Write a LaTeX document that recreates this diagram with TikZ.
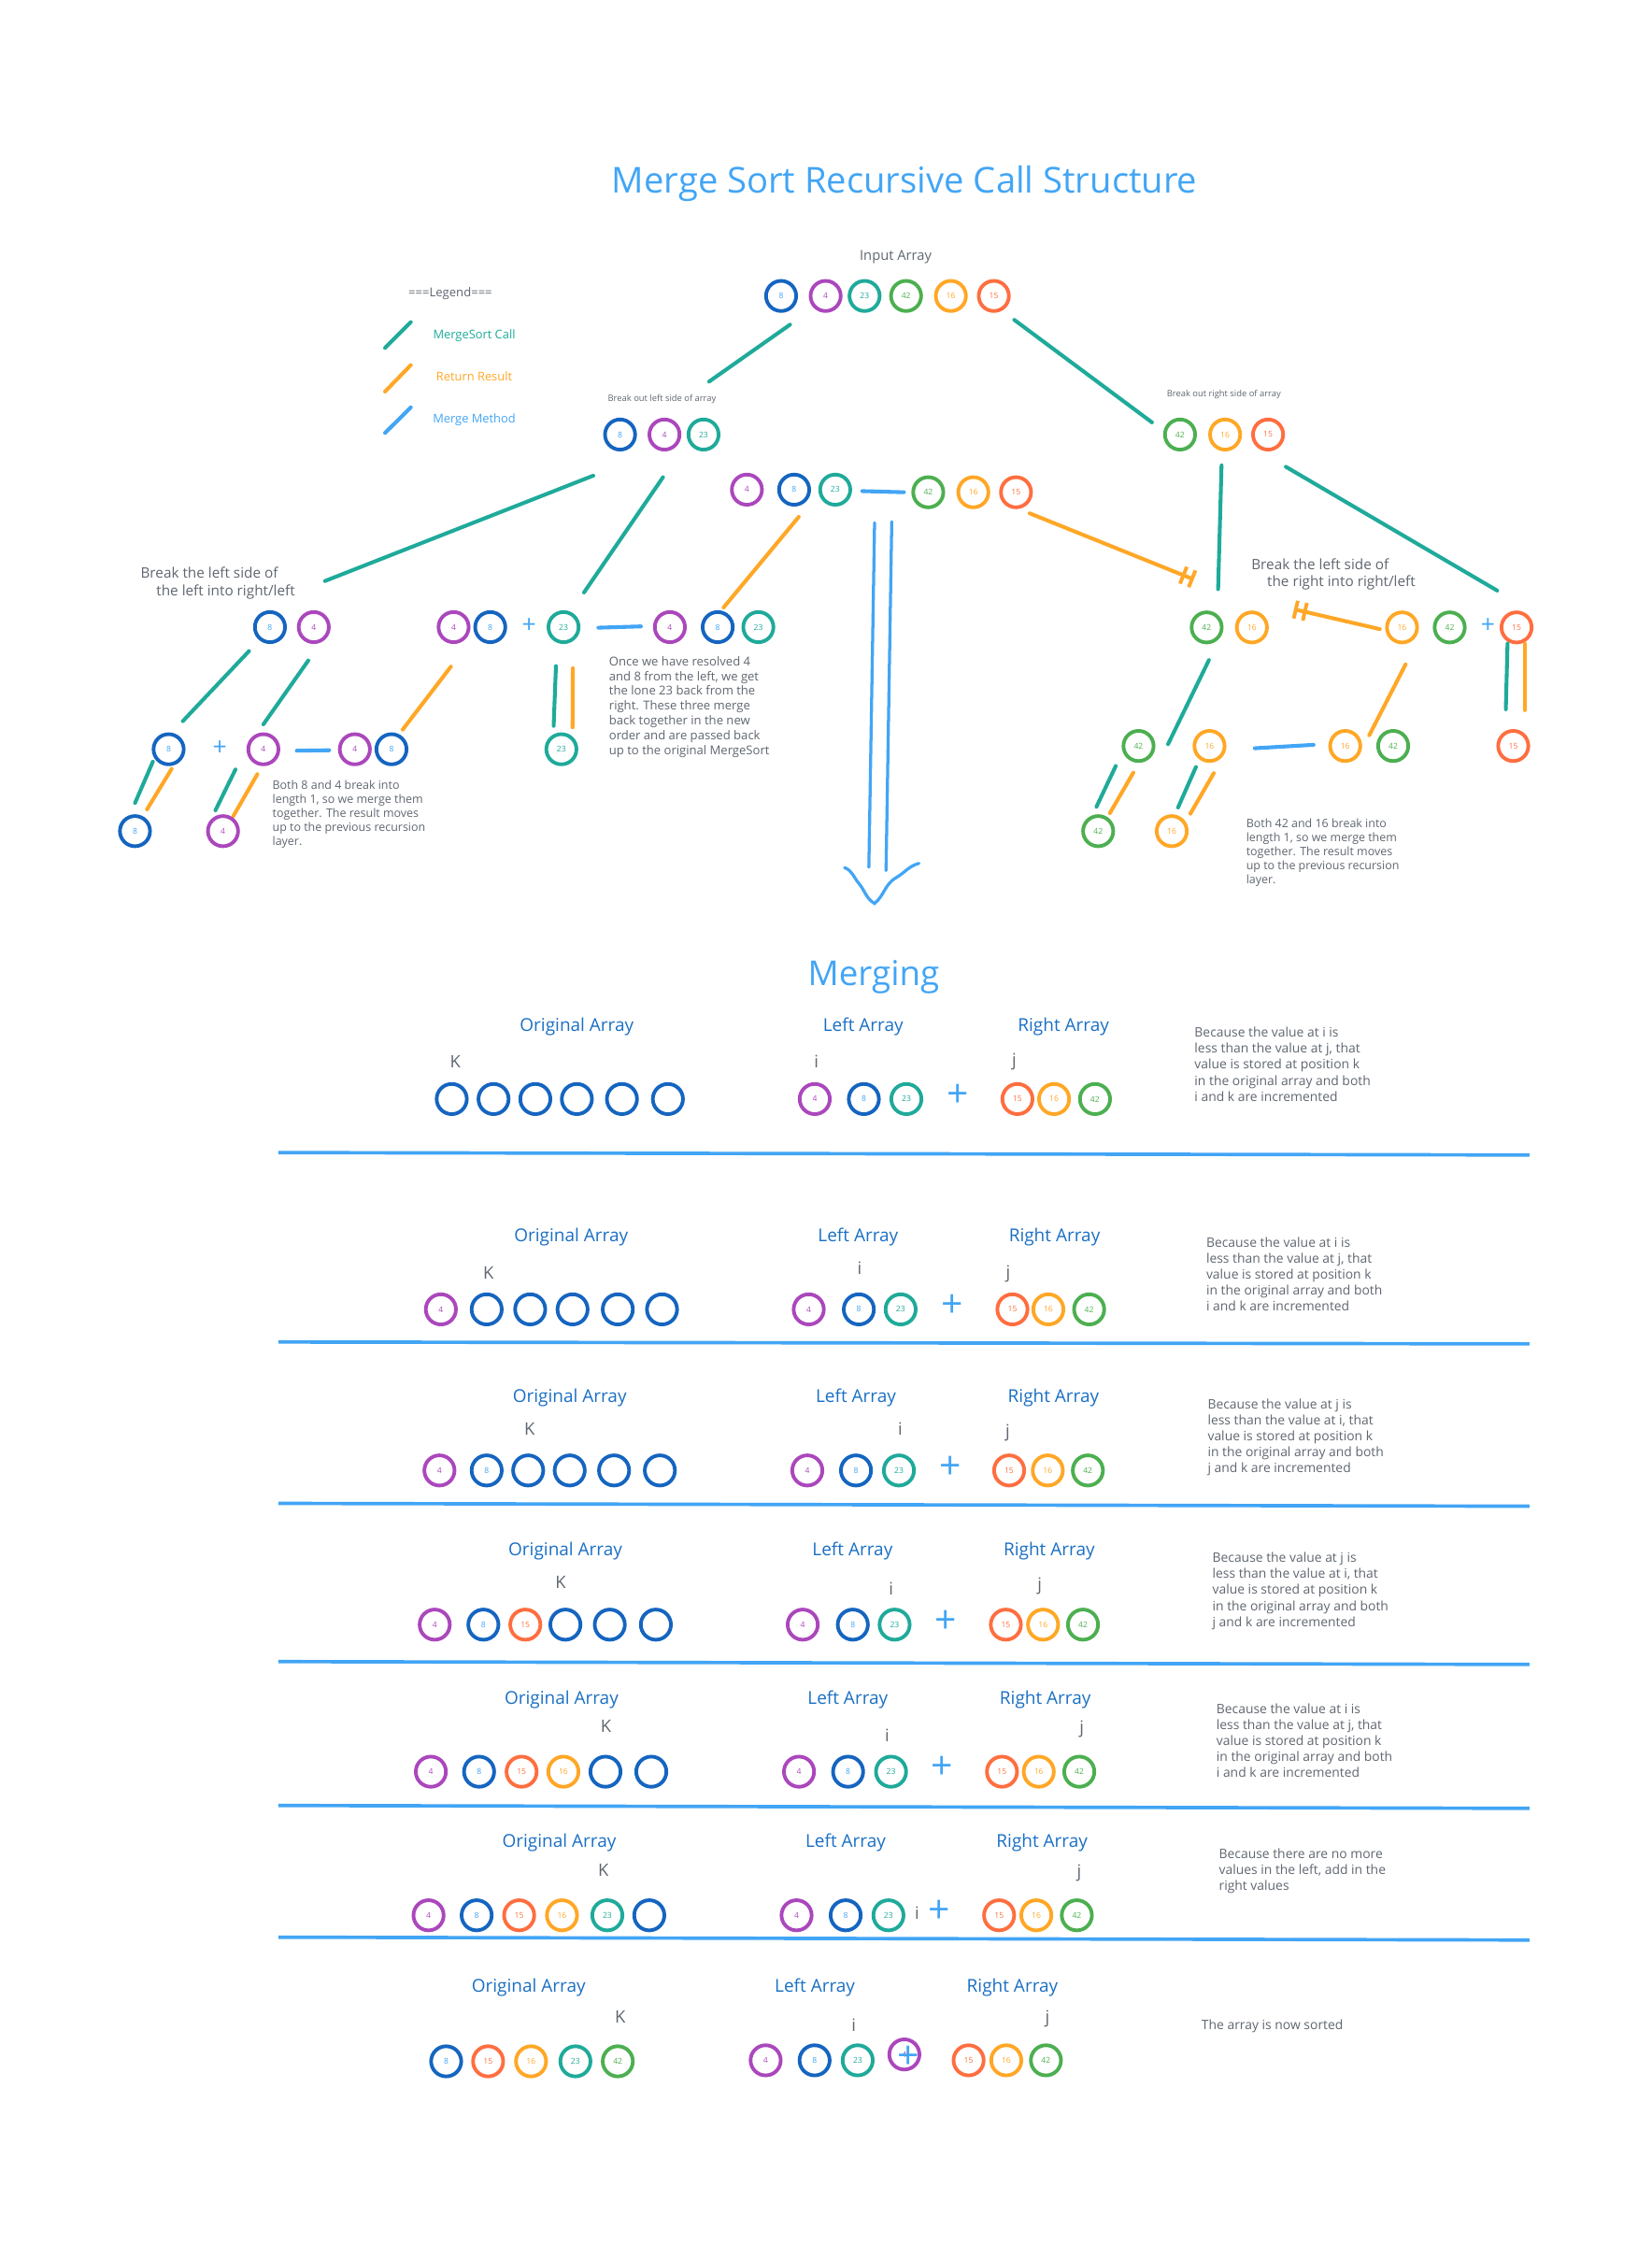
\documentclass[tikz,border=0pt]{standalone}
\usepackage{fontspec}
\setmainfont{Open Sans}
\usetikzlibrary{arrows.meta}
\definecolor{cblue}{HTML}{1565C0}
\definecolor{cpurple}{HTML}{AB47BC}
\definecolor{cteal}{HTML}{1FAA9A}
\definecolor{cgreen}{HTML}{4CAF50}
\definecolor{corange}{HTML}{FFA726}
\definecolor{cred}{HTML}{FF6E40}
\definecolor{cltblue}{HTML}{42A5F5}
\definecolor{hdrblue}{HTML}{1A6FC4}
\definecolor{txtgray}{HTML}{5F6670}
\newcommand{\myfs}[2]{\fontsize{#1}{#2}\selectfont}
\newcommand{\conn}[4]{\coordinate (#2-s) at (#3); \coordinate (#2-e) at (#4); \draw[#1] (#2-s) -- (#2-e);}
\begin{document}
\begin{tikzpicture}[x=0.75pt,y=-0.75pt,
  ring/.style={circle,draw,line width=1.9pt,minimum size=15.8pt,inner sep=0pt,font=\myfs{4.2}{5}},
  cB/.style={ring,draw=cblue,text=cltblue},
  cP/.style={ring,draw=cpurple,text=cpurple},
  cT/.style={ring,draw=cteal,text=cteal},
  cG/.style={ring,draw=cgreen,text=cgreen},
  cO/.style={ring,draw=corange,text=corange},
  cR/.style={ring,draw=cred,text=cred},
  cE/.style={ring,draw=cblue},
  ms/.style={draw=cteal,line width=2pt,line cap=round},
  rr/.style={draw=corange,line width=2pt,line cap=round},
  mm/.style={draw=cltblue,line width=2pt,line cap=round},
  bigline/.style={draw=cltblue,line width=1.6pt,line cap=round},
  sepline/.style={draw=cltblue,line width=1.8pt},
  teeend/.style={-{Bar[width=9.5pt,line width=1.9pt,sep=3pt]Bar[width=9.5pt,line width=1.9pt]}},
  lbl/.style={inner sep=0pt,text=txtgray,anchor=base},
  desc/.style={inner sep=0pt,text=txtgray,align=left,anchor=north west},
  hdr/.style={inner sep=0pt,text=hdrblue,anchor=base,font=\myfs{9.3}{11}},
  idx/.style={inner sep=0pt,text=txtgray,font=\myfs{9}{11}},
  plusS/.style={inner sep=0pt,text=cltblue,font=\myfs{13}{14}},
  plusL/.style={inner sep=0pt,text=cltblue,font=\myfs{20}{22}},
  mdesc/.style={desc,font=\myfs{6.8}{8.4}}
]
\useasboundingbox (0,0) rectangle (1154,1568);

% ---------- title & legend ----------
\node[lbl,text=cltblue,font=\myfs{18.7}{22}] (title) at (632,135.1) {Merge Sort Recursive Call Structure};
\node[lbl,font=\myfs{7.2}{9}] (inlabel) at (625.7,181.8) {Input Array};
\node[lbl,font=\myfs{6.4}{8}] (legend) at (314.6,207.5) {===Legend===};
\conn{ms}{lg1}{269,243}{287,225}
\conn{rr}{lg2}{269,273.5}{287,255}
\conn{mm}{lg3}{269,302.4}{287,284.5}
\node[lbl,text=cteal,font=\myfs{6.3}{8}] (lgt1) at (331.3,236.5) {MergeSort Call};
\node[lbl,text=corange,font=\myfs{6.3}{8}] (lgt2) at (331.3,266.3) {Return Result};
\node[lbl,text=cltblue,font=\myfs{6.3}{8}] (lgt3) at (331.3,295.2) {Merge Method};

% ---------- input array ----------
\node[cB] (t1) at (545.7,206.7) {8};
\node[cP] (t2) at (576.8,206.7) {4};
\node[cT] (t3) at (604,206.7) {23};
\node[cG] (t4) at (633,206.7) {42};
\node[cO] (t5) at (664.3,206.7) {16};
\node[cR] (t6) at (694.3,206.7) {15};

% ---------- split ----------
\conn{ms}{sp1}{552,226.7}{495.4,266.5}
\conn{ms}{sp2}{708.6,223.4}{804.8,295}
\node[lbl,font=\myfs{4.6}{6}] (bl) at (462.5,280.2) {Break out left side of array};
\node[lbl,font=\myfs{4.6}{6}] (br) at (855,277.2) {Break out right side of array};
\node[cB] (l1) at (433.2,303.5) {8};
\node[cP] (l2) at (464.2,303.5) {4};
\node[cT] (l3) at (491.5,303.5) {23};
\node[cG] (r1) at (824.4,303.5) {42};
\node[cO] (r2) at (855.9,303.5) {16};
\node[cR] (r3) at (885.9,303.5) {15};

% ---------- merged row ----------
\node[cP] (m1) at (521.8,342) {4};
\node[cB] (m2) at (554.8,342) {8};
\node[cT] (m3) at (583.5,342) {23};
\conn{mm}{mg1}{602.4,343}{631.5,343.8}
\node[cG] (m4) at (648.5,343.8) {42};
\node[cO] (m5) at (680,343.8) {16};
\node[cR] (m6) at (709.8,343.8) {15};

% ---------- left subtree ----------
\conn{ms}{ls1}{414.5,332.2}{227,405.8}
\conn{ms}{ls2}{463.2,333.3}{408,413.8}
\node[lbl,anchor=base west,font=\myfs{7.5}{9}] (ltA) at (98,403.6) {Break the left side of};
\node[lbl,anchor=base west,font=\myfs{7.5}{9}] (ltB) at (109,415.9) {the left into right/left};
\node[cB] (a1) at (188.6,438) {8};
\node[cP] (a2) at (219.2,438) {4};
\node[cP] (a3) at (316.9,438) {4};
\node[cB] (a4) at (342.5,438) {8};
\node[plusS] (p1) at (369.6,437) {+};
\node[cT] (a5) at (393.7,438) {23};
\conn{mm}{mg2}{418,438.4}{447.8,437.5}
\node[cP] (a6) at (468,438) {4};
\node[cB] (a7) at (501.4,438) {8};
\node[cT] (a8) at (529.8,438) {23};
\conn{rr}{rt1}{505.5,424.3}{558,361}
\conn{ms}{ls3}{174,454.7}{127.7,503.7}
\conn{ms}{ls4}{215.4,461.3}{184,505.9}
\conn{rr}{rt2}{281.3,509.6}{315,465.6}
\conn{ms}{ls5}{388.4,465.2}{386.8,507}
\conn{rr}{rt3}{400.2,466.7}{400,508}
\node[cB] (b1) at (117.8,523.3) {8};
\node[plusS] (p2) at (153.6,522.5) {+};
\node[cP] (b2) at (184,523.3) {4};
\conn{mm}{mg3}{207.3,524.3}{230,524}
\node[cP] (b3) at (247.9,523.3) {4};
\node[cB] (b4) at (273.5,523.3) {8};
\node[cT] (b5) at (392.2,523.3) {23};
\conn{ms}{ls6}{106.8,532}{94.3,560.9}
\conn{rr}{rt4}{119.9,537}{102.7,565.3}
\conn{ms}{ls7}{164.5,537.4}{150.5,566}
\conn{rr}{rt5}{179.8,540.7}{163,570}
\node[cB] (c1) at (94.3,580.5) {8};
\node[cP] (c2) at (155.8,580.5) {4};
\node[desc,font=\myfs{6.1}{7.35}] (dl) at (190.1,544.5) {Both 8 and 4 break into\\length 1, so we merge them\\together. The result moves\\up to the previous recursion\\layer.};
\node[desc,font=\myfs{6.4}{7.73}] (dm) at (425.3,458.3) {Once we have resolved 4\\and 8 from the left, we get\\the lone 23 back from the\\right. These three merge\\back together in the new\\order and are passed back\\up to the original MergeSort};

% ---------- right subtree ----------
\coordinate (te1-s) at (719.3,358.5); \coordinate (te1-e) at (834,404.7);
\draw[rr,teeend] (te1-s) -- (te1-e);
\conn{ms}{rs1}{853.4,325}{851,411.5}
\conn{ms}{rs2}{898.3,326}{1046,412.5}
\node[lbl,anchor=base west,font=\myfs{7.5}{9}] (rtA) at (874,397.6) {Break the left side of};
\node[lbl,anchor=base west,font=\myfs{7.5}{9}] (rtB) at (885,409.6) {the right into right/left};
\node[cG] (d1) at (843,438.2) {42};
\node[cO] (d2) at (874.6,438.2) {16};
\node[cO] (d3) at (979.5,438.2) {16};
\node[cG] (d4) at (1012.8,438.2) {42};
\node[plusS] (p3) at (1039.5,437) {+};
\node[cR] (d5) at (1059.5,438.2) {15};
\coordinate (te2-s) at (964,439.4); \coordinate (te2-e) at (904,425.5);
\draw[rr,teeend] (te2-s) -- (te2-e);
\conn{ms}{rs3}{1053.2,449.5}{1052,495.4}
\conn{rr}{rt6}{1065.3,449.5}{1065.3,496}
\conn{ms}{rs4}{844.6,461}{816,519.8}
\conn{rr}{rt7}{982,464}{956.6,513.5}
\node[cG] (e1) at (795.4,521) {42};
\node[cO] (e2) at (845,521) {16};
\conn{mm}{mg4}{876.6,522.6}{917.7,520.2}
\node[cO] (e3) at (939.8,521) {16};
\node[cG] (e4) at (973.3,521) {42};
\node[cR] (e5) at (1057.2,521) {15};
\conn{ms}{rs5}{779.5,535}{766,563.5}
\conn{rr}{rt8}{791.8,539.6}{775.4,567.9}
\conn{ms}{rs6}{835.5,535.7}{823,564}
\conn{rr}{rt9}{848,540}{831.6,568.3}
\node[cG] (f1) at (767.2,580.5) {42};
\node[cO] (f2) at (818.6,580.5) {16};
\node[desc,font=\myfs{6.1}{7.35}] (dr) at (870.4,571.3) {Both 42 and 16 break into\\length 1, so we merge them\\together. The result moves\\up to the previous recursion\\layer.};

% ---------- big arrow ----------
\conn{bigline}{ar1}{611,365}{607,605.7}
\conn{bigline}{ar2}{623,364.4}{619,608}
\coordinate (h1) at (590,606);
\coordinate (h2) at (600,617);
\coordinate (h3) at (611,631);
\coordinate (h4) at (626,613);
\coordinate (h5) at (642,603);
\draw[bigline] (h1) to[out=-20,in=130] (h2) to[out=-50,in=150] (h3) to[out=40,in=-150] (h4) to[out=30,in=-165] (h5);

% ---------- merging ----------
\node[lbl,text=cltblue,font=\myfs{18}{22}] (merging) at (610.3,688.6) {Merging};

% row 1
\node[hdr] (o1h) at (403,720.2) {Original Array};
\node[hdr] (l1h) at (603,720.2) {Left Array};
\node[hdr] (r1h) at (743,720.2) {Right Array};
\node[idx] (k1) at (318,741.5) {K};
\node[idx] (i1) at (570.3,741.5) {i};
\node[idx] (j1) at (708.5,741.5) {j};
\node[cE] (o11) at (315.6,767.6) {};
\node[cE] (o12) at (344.8,767.6) {};
\node[cE] (o13) at (374,767.6) {};
\node[cE] (o14) at (403,767.6) {};
\node[cE] (o15) at (434.5,767.6) {};
\node[cE] (o16) at (466.6,767.6) {};
\node[cP] (la11) at (569.2,767.6) {4};
\node[cB] (la12) at (603.5,767.6) {8};
\node[cT] (la13) at (633.2,767.6) {23};
\node[plusL] (pl1) at (669.4,765.4) {+};
\node[cR] (ra11) at (710.8,767.6) {15};
\node[cO] (ra12) at (736.4,767.6) {16};
\node[cG] (ra13) at (765,767.6) {42};
\node[mdesc] (ds1) at (834.3,717.2) {Because the value at i is\\less than the value at j, that\\value is stored at position k\\in the original array and both\\i and k are incremented};
\conn{sepline}{sp1l}{194.4,805}{1068.5,806.7}

% row 2
\node[hdr] (o2h) at (399,867.1) {Original Array};
\node[hdr] (l2h) at (599.5,867.1) {Left Array};
\node[hdr] (r2h) at (736.7,867.1) {Right Array};
\node[idx] (k2) at (341.3,888.8) {K};
\node[idx] (i2) at (600.6,885.5) {i};
\node[idx] (j2) at (704.3,889.7) {j};
\node[cP] (o21) at (308,914.5) {4};
\node[cE] (o22) at (340,914.5) {};
\node[cE] (o23) at (370.4,914.5) {};
\node[cE] (o24) at (400,914.5) {};
\node[cE] (o25) at (431.6,914.5) {};
\node[cE] (o26) at (462.5,914.5) {};
\node[cP] (la21) at (565,914.5) {4};
\node[cB] (la22) at (600,914.5) {8};
\node[cT] (la23) at (629.2,914.5) {23};
\node[plusL] (pl2) at (665.3,912) {+};
\node[cR] (ra21) at (707.3,914.5) {15};
\node[cO] (ra22) at (732.4,914.5) {16};
\node[cG] (ra23) at (760.9,914.5) {42};
\node[mdesc] (ds2) at (842.5,863.7) {Because the value at i is\\less than the value at j, that\\value is stored at position k\\in the original array and both\\i and k are incremented};
\conn{sepline}{sp2l}{194.4,937.3}{1068.5,938.6}

% row 3
\node[hdr] (o3h) at (398,979.4) {Original Array};
\node[hdr] (l3h) at (598,979.4) {Left Array};
\node[hdr] (r3h) at (736,979.4) {Right Array};
\node[idx] (k3) at (370,998) {K};
\node[idx] (i3) at (629,998) {i};
\node[idx] (j3) at (704,1001) {j};
\node[cP] (o31) at (307,1027) {4};
\node[cB] (o32) at (340,1027) {8};
\node[cE] (o33) at (369,1027) {};
\node[cE] (o34) at (398,1027) {};
\node[cE] (o35) at (429,1027) {};
\node[cE] (o36) at (461,1027) {};
\node[cP] (la31) at (564,1027) {4};
\node[cB] (la32) at (598,1027) {8};
\node[cT] (la33) at (628,1027) {23};
\node[plusL] (pl3) at (664,1025) {+};
\node[cR] (ra31) at (705,1027) {15};
\node[cO] (ra32) at (732,1027) {16};
\node[cG] (ra33) at (760,1027) {42};
\node[mdesc] (ds3) at (843.5,976.8) {Because the value at j is\\less than the value at i, that\\value is stored at position k\\in the original array and both\\j and k are incremented};
\conn{sepline}{sp3l}{194.4,1050}{1068.5,1052}

% row 4
\node[hdr] (o4h) at (395,1086.8) {Original Array};
\node[hdr] (l4h) at (595.6,1086.8) {Left Array};
\node[hdr] (r4h) at (733,1086.8) {Right Array};
\node[idx] (k4) at (391.6,1105.3) {K};
\node[idx] (i4) at (622.5,1109.6) {i};
\node[idx] (j4) at (726.4,1107.5) {j};
\node[cP] (o41) at (303.7,1134.7) {4};
\node[cB] (o42) at (337.7,1134.7) {8};
\node[cR] (o43) at (367,1134.7) {15};
\node[cE] (o44) at (395,1134.7) {};
\node[cE] (o45) at (426,1134.7) {};
\node[cE] (o46) at (458.2,1134.7) {};
\node[cP] (la41) at (560.8,1134.7) {4};
\node[cB] (la42) at (595.8,1134.7) {8};
\node[cT] (la43) at (625,1134.7) {23};
\node[plusL] (pl4) at (660.7,1132.5) {+};
\node[cR] (ra41) at (702.7,1134.7) {15};
\node[cO] (ra42) at (728.7,1134.7) {16};
\node[cG] (ra43) at (756.6,1134.7) {42};
\node[mdesc] (ds4) at (846.8,1084) {Because the value at j is\\less than the value at i, that\\value is stored at position k\\in the original array and both\\j and k are incremented};
\conn{sepline}{sp4l}{194.4,1160.5}{1068.5,1162.5}

% row 5
\node[hdr] (o5h) at (392.3,1190.2) {Original Array};
\node[hdr] (l5h) at (592.3,1190.2) {Left Array};
\node[hdr] (r5h) at (730.3,1190.2) {Right Array};
\node[idx] (k5) at (423.3,1205.4) {K};
\node[idx] (i5) at (619.8,1212) {i};
\node[idx] (j5) at (755.7,1207.6) {j};
\node[cP] (o51) at (301,1237.4) {4};
\node[cB] (o52) at (334.7,1237.4) {8};
\node[cR] (o53) at (364.4,1237.4) {15};
\node[cO] (o54) at (393.6,1237.4) {16};
\node[cE] (o55) at (423,1237.4) {};
\node[cE] (o56) at (455,1237.4) {};
\node[cP] (la51) at (558.2,1237.4) {4};
\node[cB] (la52) at (592.5,1237.4) {8};
\node[cT] (la53) at (622.5,1237.4) {23};
\node[plusL] (pl5) at (658.1,1234.8) {+};
\node[cR] (ra51) at (700,1237.4) {15};
\node[cO] (ra52) at (725.7,1237.4) {16};
\node[cG] (ra53) at (754,1237.4) {42};
\node[mdesc] (ds5) at (849.6,1189.6) {Because the value at i is\\less than the value at j, that\\value is stored at position k\\in the original array and both\\i and k are incremented};
\conn{sepline}{sp5l}{194.4,1261}{1068.5,1263}

% row 6
\node[hdr] (o6h) at (390.7,1289.9) {Original Array};
\node[hdr] (l6h) at (590.8,1289.9) {Left Array};
\node[hdr] (r6h) at (728,1289.9) {Right Array};
\node[idx] (k6) at (421.6,1306) {K};
\node[idx] (i6) at (640.7,1336) {i};
\node[idx] (j6) at (754,1308) {j};
\node[cP] (o61) at (299.4,1337.7) {4};
\node[cB] (o62) at (333,1337.7) {8};
\node[cR] (o63) at (362.7,1337.7) {15};
\node[cO] (o64) at (392.6,1337.7) {16};
\node[cT] (o65) at (424.3,1337.7) {23};
\node[cE] (o66) at (453.6,1337.7) {};
\node[cP] (la61) at (556.5,1337.7) {4};
\node[cB] (la62) at (590.8,1337.7) {8};
\node[cT] (la63) at (620.7,1337.7) {23};
\node[plusL] (pl6) at (656.4,1334.9) {+};
\node[cR] (ra61) at (698,1337.7) {15};
\node[cO] (ra62) at (724,1337.7) {16};
\node[cG] (ra63) at (752.3,1337.7) {42};
\node[mdesc] (ds6) at (851.4,1290.8) {Because there are no more\\values in the left, add in the\\right values};
\conn{sepline}{sp6l}{194.4,1353}{1068.5,1355}

% row 7
\node[hdr] (o7h) at (369.3,1391.4) {Original Array};
\node[hdr] (l7h) at (569.3,1391.4) {Left Array};
\node[hdr] (r7h) at (707.3,1391.4) {Right Array};
\node[idx] (k7) at (433.3,1408.4) {K};
\node[idx] (i7) at (596.5,1414.2) {i};
\node[idx] (j7) at (731.7,1410) {j};
\node[cB] (o71) at (311.7,1439.7) {8};
\node[cR] (o72) at (341,1439.7) {15};
\node[cO] (o73) at (371,1439.7) {16};
\node[cT] (o74) at (402,1439.7) {23};
\node[cG] (o75) at (431.6,1439.7) {42};
\node[cP] (la71) at (534.9,1439) {4};
\node[cB] (la72) at (569.1,1439) {8};
\node[cT] (la73) at (599.2,1439) {23};
\node[cP] (la74) at (631.8,1434.9) {4};
\node[plusL] (pl7) at (634.7,1437) {+};
\node[cR] (ra71) at (676.7,1439) {15};
\node[cO] (ra72) at (703,1439) {16};
\node[cG] (ra73) at (730.7,1439) {42};
\node[lbl,anchor=base west,font=\myfs{6.8}{8.4}] (ds7) at (839.2,1417.5) {The array is now sorted};
\end{tikzpicture}
\end{document}
